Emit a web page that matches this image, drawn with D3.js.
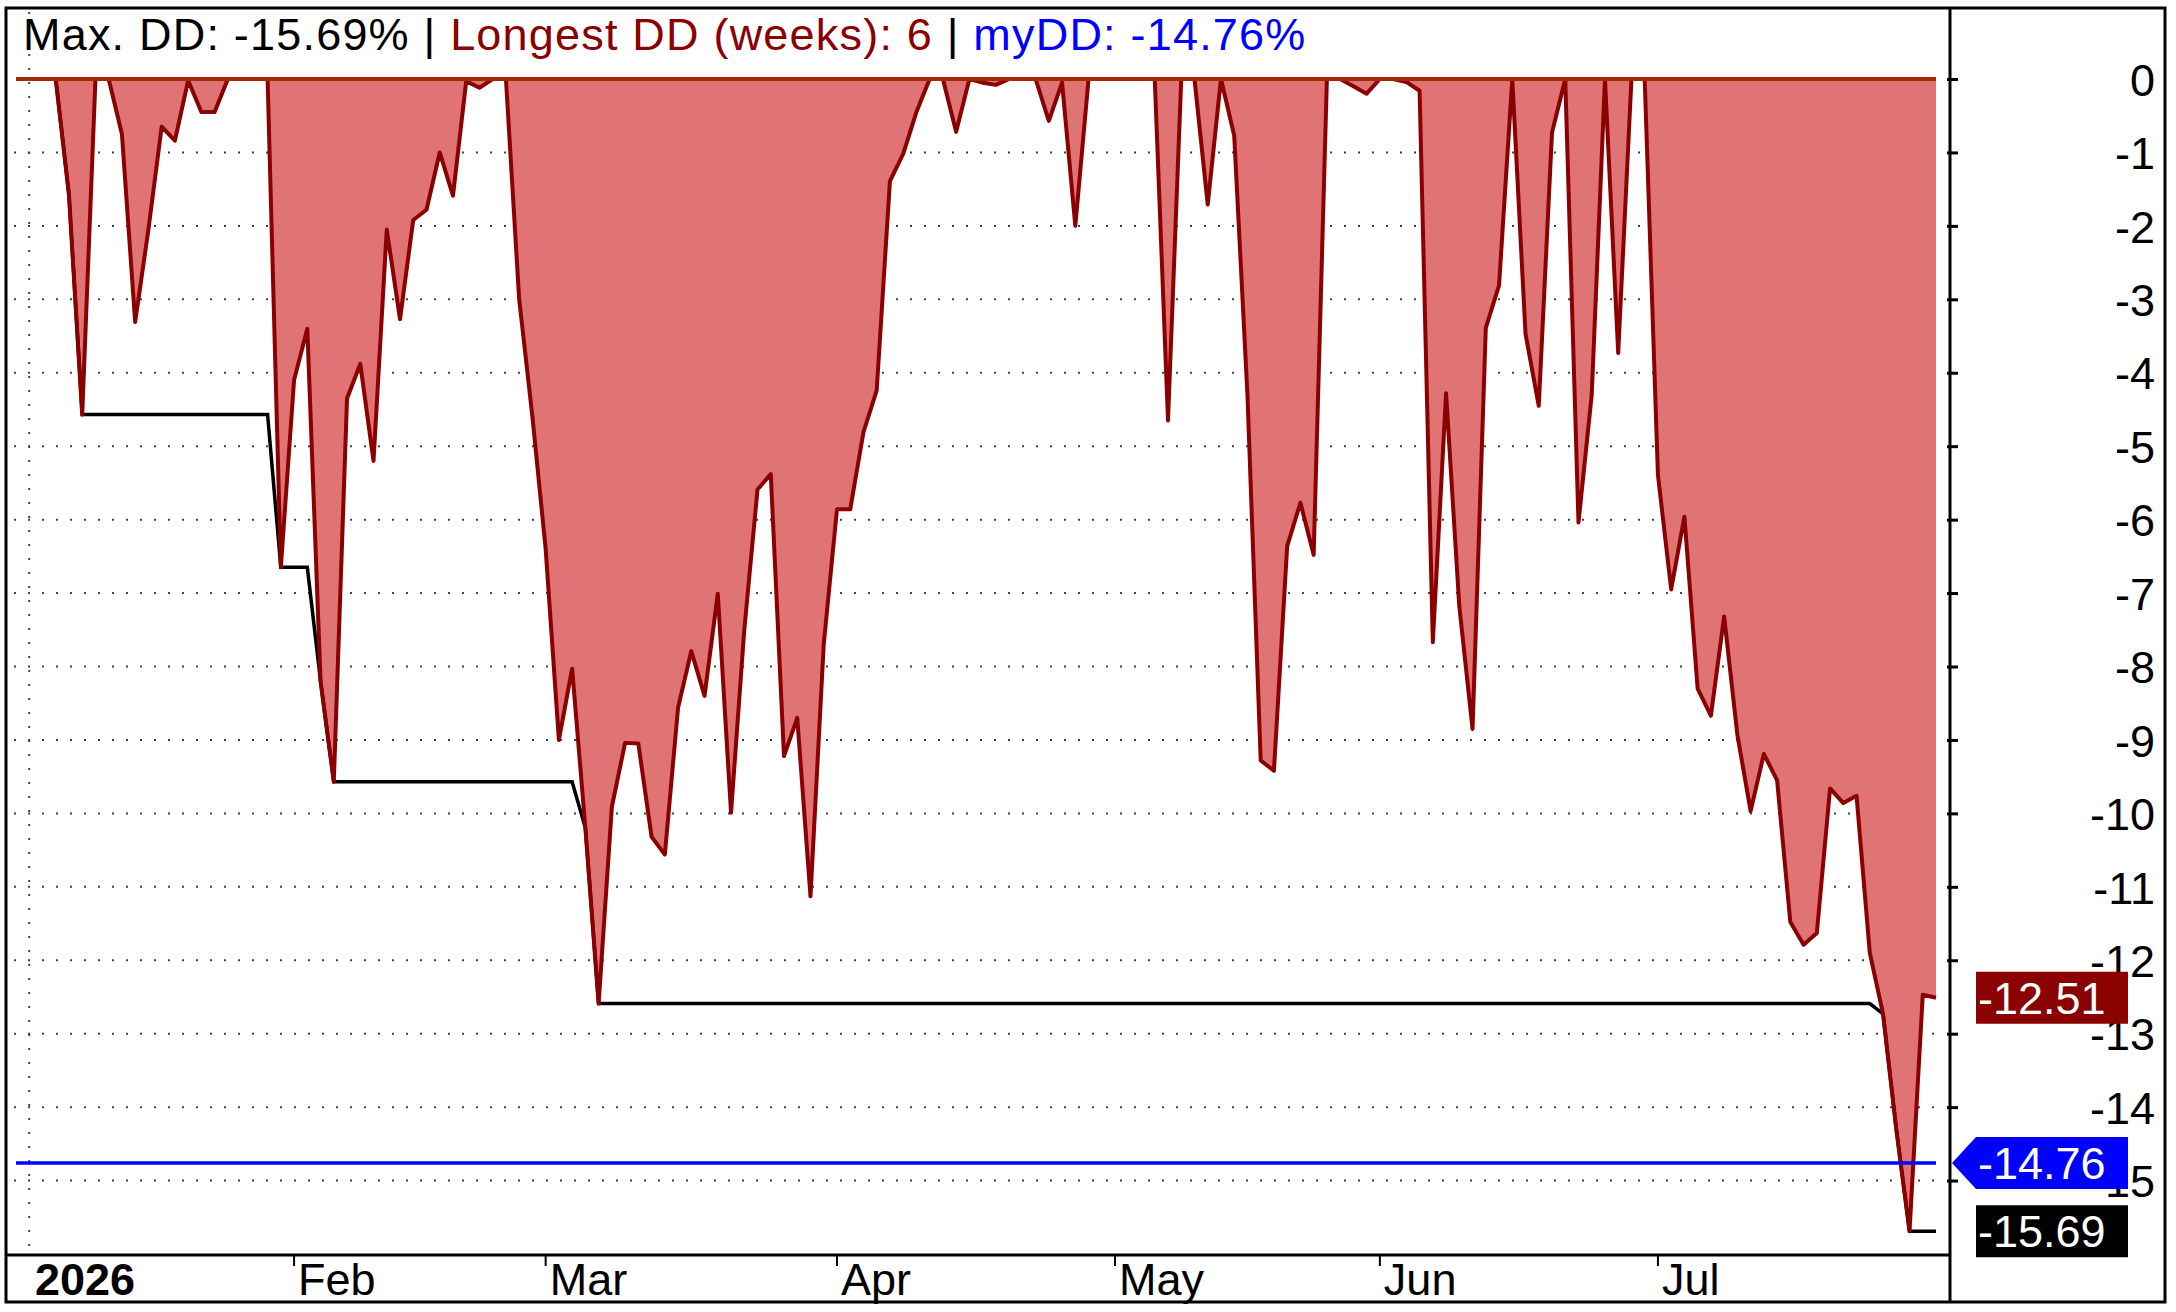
<!DOCTYPE html>
<html>
<head>
<meta charset="utf-8">
<script src="https://cdnjs.cloudflare.com/ajax/libs/d3/7.8.5/d3.min.js"></script>
<style>
  html, body { margin: 0; padding: 0; background: #fff; }
  svg { display: block; }
  text { font-family: "Liberation Sans", Arial, sans-serif; }
</style>
</head>
<body>
<svg id="chart" width="2176" height="1312"></svg>
<script>
/**
 * Drawdown chart, Dec 31 2025 .. Jul 31 2026, one point per trading day.
 */

// Drawdown in percent per trading day, grouped by month.
var ddDec = [0];
var ddJan = [0, 0, 0, -1.58, -4.57, 0, 0, -0.75, -3.31, -2.05, -0.65, -0.84, -0.02,
             -0.45, -0.45, 0, 0, 0, 0, -6.65];
var ddFeb = [-4.1, -3.4, -8.2, -9.57, -4.35, -3.88, -5.2, -2.05, -3.27, -1.92, -1.78,
             -1.0, -1.59, -0.03, -0.12, 0, 0, -3.0, -4.6];
var ddMar = [-6.4, -9.0, -8.03, -10.2, -12.59, -9.91, -9.04, -9.05, -10.32, -10.56,
             -8.56, -7.79, -8.4, -7.01, -9.99, -7.5, -5.59, -5.38, -9.22, -8.7, -11.13, -7.7];
var ddApr = [-5.86, -5.86, -4.81, -4.24, -1.39, -1.02, -0.45, 0, 0, -0.72, 0, -0.05,
             -0.08, 0, 0, 0, -0.57, -0.05, -2.0, 0, 0];
var ddMay = [0, 0, 0, 0, -4.65, 0, 0, -1.71, 0, -0.77, -4.3, -9.28, -9.42, -6.36,
             -5.77, -6.48, 0, 0, -0.1, -0.2];
var ddJun = [0, 0, -0.04, -0.16, -7.67, -4.28, -7.18, -8.85, -3.39, -2.81, 0, -3.47,
             -4.45, -0.73, 0, -6.04, -4.3, 0, -3.73, 0, 0];
var ddJul = [-5.39, -6.95, -5.96, -8.3, -8.67, -7.32, -8.93, -9.97, -9.19, -9.55,
             -11.48, -11.79, -11.63, -9.66, -9.86, -9.76, -11.9, -12.73, -14.3, -15.69,
             -12.47, -12.51];

// Axis labels. Month ticks sit on the first trading day of the month (bar index).
var yearLabel = '2026';
var yearIndex = 1;
var monthLabels = ['Feb', 'Mar', 'Apr', 'May', 'Jun', 'Jul'];
var monthIndex = [21, 40, 62, 83, 103, 124];
var yTicks = d3.range(0, -16, -1);

// Summary numbers.
var MAX_DD = -15.69;
var LONGEST_DD_WEEKS = 6;
var MY_DD = -14.76;

// Layout.
var FRAME = {left: 6, top: 8, right: 2165, bottom: 1302};
var PLOT_RIGHT = 1950;
var PLOT_BOTTOM = 1255;
var FONT = 45;

var RED_FILL = '#e07474';
var RED_LINE = '#8b0000';
var ZERO_LINE = '#a52a00';


var init = function() {
  var dd = [].concat(ddDec, ddJan, ddFeb, ddMar, ddApr, ddMay, ddJun, ddJul);
  var data = dd.map(function(v, i) { return {i: i, v: v}; });

  // Running worst drawdown (black step line).
  var worst = 0;
  var maxDD = data.map(function(d) {
    worst = Math.min(worst, d.v);
    return {i: d.i, v: worst};
  });

  var svg = d3.select('#chart');
  var x = d3.scaleLinear().domain([0, dd.length - 1]).range([16, 1936]);
  var y = d3.scaleLinear().domain([0, -16]).range([79, 1254]);

  drawGrid(svg, x, y);
  drawSeries(svg, x, y, data, maxDD);
  drawFrame(svg);
  drawYAxis(svg, y);
  drawXAxis(svg, x);
  drawValueTags(svg, y, dd[dd.length - 1]);
  drawTitle(svg);
};


/**
 * drawGrid
 * ========
 * Dotted horizontal lines per percent and the year separator.
 */
var drawGrid = function(svg, x, y) {
  svg.append('g').selectAll('line')
    .data(yTicks.filter(function(t) { return t !== 0; }))
    .enter()
    .append('line')
    .attr('x1', 14)
    .attr('x2', PLOT_RIGHT - 4)
    .attr('y1', function(d) { return y(d); })
    .attr('y2', function(d) { return y(d); })
    .attr('stroke', '#444')
    .attr('stroke-width', 2)
    .attr('stroke-dasharray', '2,12');

  svg.append('line')
    .attr('x1', x(yearIndex)).attr('x2', x(yearIndex))
    .attr('y1', FRAME.top + 4).attr('y2', PLOT_BOTTOM)
    .attr('stroke', '#444')
    .attr('stroke-width', 2)
    .attr('stroke-dasharray', '2,12');
};


/**
 * drawSeries
 * ==========
 * Filled drawdown area, its outline, the running max DD and myDD level.
 */
var drawSeries = function(svg, x, y, data, maxDD) {
  var area = d3.area()
    .x(function(d) { return x(d.i); })
    .y0(y(0))
    .y1(function(d) { return y(d.v); });

  var line = d3.line()
    .x(function(d) { return x(d.i); })
    .y(function(d) { return y(d.v); });

  svg.append('path')
    .datum(data)
    .attr('d', area)
    .attr('fill', RED_FILL);

  svg.append('path')
    .datum(maxDD)
    .attr('d', line)
    .attr('fill', 'none')
    .attr('stroke', '#000')
    .attr('stroke-width', 3.5);

  svg.append('path')
    .datum(data)
    .attr('d', line)
    .attr('fill', 'none')
    .attr('stroke', RED_LINE)
    .attr('stroke-width', 4)
    .attr('stroke-linejoin', 'round');

  svg.append('line')
    .attr('x1', x(0)).attr('x2', x(data.length - 1))
    .attr('y1', y(0)).attr('y2', y(0))
    .attr('stroke', ZERO_LINE)
    .attr('stroke-width', 4);

  svg.append('line')
    .attr('x1', x(0)).attr('x2', x(data.length - 1))
    .attr('y1', y(MY_DD)).attr('y2', y(MY_DD))
    .attr('stroke', '#0000ff')
    .attr('stroke-width', 3.5);
};


var drawFrame = function(svg) {
  svg.append('rect')
    .attr('x', FRAME.left)
    .attr('y', FRAME.top)
    .attr('width', FRAME.right - FRAME.left)
    .attr('height', FRAME.bottom - FRAME.top)
    .attr('fill', 'none')
    .attr('stroke', '#000')
    .attr('stroke-width', 3);

  svg.append('line')
    .attr('x1', PLOT_RIGHT).attr('x2', PLOT_RIGHT)
    .attr('y1', FRAME.top).attr('y2', FRAME.bottom)
    .attr('stroke', '#000')
    .attr('stroke-width', 3);

  svg.append('line')
    .attr('x1', FRAME.left).attr('x2', PLOT_RIGHT)
    .attr('y1', PLOT_BOTTOM).attr('y2', PLOT_BOTTOM)
    .attr('stroke', '#000')
    .attr('stroke-width', 3);
};


/**
 * drawYAxis
 * =========
 * Right hand value axis.
 */
var drawYAxis = function(svg, y) {
  var g = svg.append('g')
    .attr('transform', 'translate(' + PLOT_RIGHT + ',0)')
    .call(d3.axisRight(y)
      .tickValues(yTicks)
      .tickSize(8)
      .tickPadding(0)
      .tickFormat(function(d) { return d === 0 ? '0' : '-' + Math.abs(d); }));

  g.select('.domain').remove();
  g.selectAll('.tick line')
    .attr('x1', -3)
    .attr('stroke', '#000')
    .attr('stroke-width', 3);
  g.selectAll('.tick text')
    .attr('x', 2155 - PLOT_RIGHT)
    .attr('dy', '0.36em')
    .attr('text-anchor', 'end')
    .attr('fill', '#000')
    .attr('font-size', FONT)
    .attr('font-family', '"Liberation Sans", Arial, sans-serif');
};


/**
 * drawXAxis
 * =========
 * Month ticks along the bottom strip.
 */
var drawXAxis = function(svg, x) {
  var g = svg.append('g');

  g.selectAll('line')
    .data(monthIndex)
    .enter()
    .append('line')
    .attr('x1', function(d) { return x(d); })
    .attr('x2', function(d) { return x(d); })
    .attr('y1', PLOT_BOTTOM)
    .attr('y2', PLOT_BOTTOM + 11)
    .attr('stroke', '#000')
    .attr('stroke-width', 2);

  g.selectAll('text.month')
    .data(monthLabels)
    .enter()
    .append('text')
    .attr('class', 'month')
    .attr('x', function(d, i) { return x(monthIndex[i]) + 4; })
    .attr('y', 1295)
    .attr('font-size', FONT)
    .text(function(d) { return d; });

  g.append('text')
    .attr('x', 35)
    .attr('y', 1295)
    .attr('font-size', FONT)
    .attr('font-weight', 'bold')
    .text(yearLabel);
};


/**
 * drawValueTags
 * =============
 * Coloured value boxes on the right axis.
 */
var drawValueTags = function(svg, y, last) {
  var tags = [
    {v: last, color: RED_LINE, arrow: false},
    {v: MY_DD, color: '#0000ff', arrow: true},
    {v: MAX_DD, color: '#000000', arrow: false}
  ];
  var left = 1976, right = 2128, half = 26;

  tags.forEach(function(t) {
    var cy = y(t.v);
    var pts = [[left, cy - half], [right, cy - half], [right, cy + half], [left, cy + half]];
    if (t.arrow) pts.push([PLOT_RIGHT + 2, cy]);
    svg.append('polygon')
      .attr('points', pts.map(function(p) { return p.join(','); }).join(' '))
      .attr('fill', t.color);
    svg.append('text')
      .attr('x', left + 2)
      .attr('y', cy)
      .attr('dy', '0.36em')
      .attr('font-size', FONT)
      .attr('fill', '#fff')
      .text(t.v.toFixed(2));
  });
};


var drawTitle = function(svg) {
  var t = svg.append('text')
    .attr('x', 23)
    .attr('y', 50)
    .attr('font-size', FONT)
    .attr('letter-spacing', 1.2);
  t.append('tspan').attr('fill', '#000').text('Max. DD: ' + MAX_DD.toFixed(2) + '% | ');
  t.append('tspan').attr('fill', RED_LINE).text('Longest DD (weeks): ' + LONGEST_DD_WEEKS);
  t.append('tspan').attr('fill', '#000').text(' | ');
  t.append('tspan').attr('fill', '#0000ff').text('myDD: ' + MY_DD.toFixed(2) + '%');
};

init();
</script>
</body>
</html>
